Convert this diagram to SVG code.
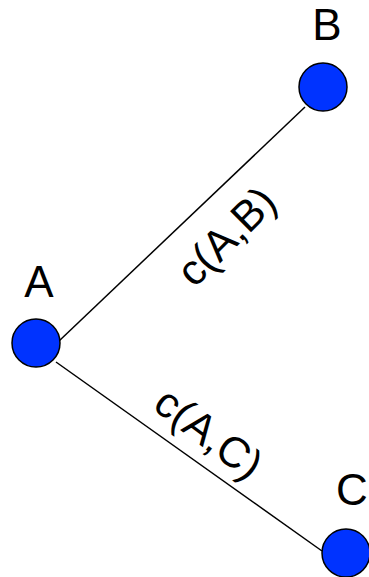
<svg xmlns="http://www.w3.org/2000/svg" width="369" height="577" viewBox="0 0 369 577">
<style>
.node{fill:#0033ff;stroke:#000;stroke-width:1.5}
.lbl{font-family:"Liberation Sans",Arial,sans-serif;font-size:44px;fill:#000;text-anchor:middle}
.elbl{font-family:"Liberation Sans",Arial,sans-serif;font-size:43px;fill:#000;text-anchor:middle}
.edge{stroke:#000;stroke-width:1.5;fill:none}
</style>
<rect width="369" height="577" fill="#fff"/>
<g id="edges">
<line class="edge" x1="59" y1="341" x2="305" y2="107"/>
<line class="edge" x1="56" y1="362" x2="322" y2="551"/>
<text class="elbl" transform="translate(226,236) rotate(-45)" y="15">c(A,B)</text>
<text class="elbl" transform="translate(209,433) rotate(37)" y="15">c(A,C)</text>
</g>
<g id="A">
<circle class="node" cx="36" cy="343" r="24"/>
<text class="lbl" x="39" y="297">A</text>
</g>
<g id="B">
<circle class="node" cx="323" cy="87" r="24"/>
<text class="lbl" x="327" y="40">B</text>
</g>
<g id="C">
<circle class="node" cx="346" cy="553" r="24"/>
<text class="lbl" x="352" y="505">C</text>
</g>
</svg>
